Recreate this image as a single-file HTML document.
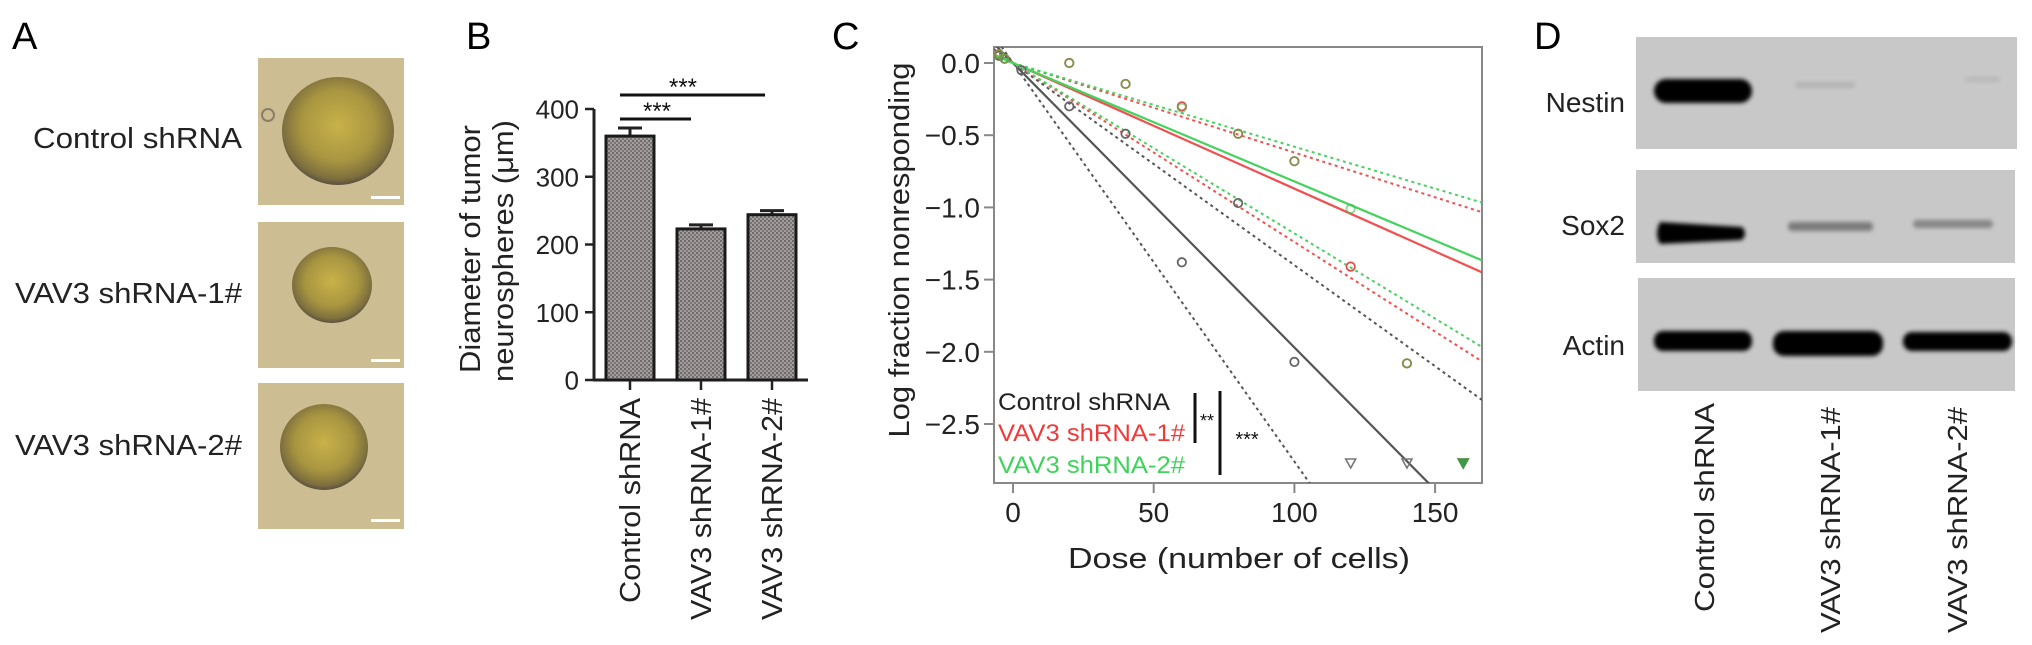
<!DOCTYPE html>
<html><head><meta charset="utf-8">
<style>
html,body{margin:0;padding:0;background:#fff;width:2032px;height:645px;overflow:hidden;}
svg{display:block;font-family:"Liberation Sans",Arial,sans-serif;}
</style></head>
<body>
<svg id="fig" width="2032" height="645" viewBox="0 0 2032 645" xmlns="http://www.w3.org/2000/svg">
<defs>
  <pattern id="hatch" width="4" height="4" patternUnits="userSpaceOnUse">
    <rect width="4" height="4" fill="#a39d9d"/>
    <rect width="2" height="2" fill="#6f6a6a"/>
    <rect x="2" y="2" width="2" height="2" fill="#7a7575"/>
  </pattern>
  <radialGradient id="cell" cx="50%" cy="45%" r="55%">
    <stop offset="0%" stop-color="#c9b24a"/>
    <stop offset="60%" stop-color="#a89540"/>
    <stop offset="90%" stop-color="#7d6f3e"/>
    <stop offset="100%" stop-color="#5b5040"/>
  </radialGradient>
  <filter id="blur" x="-20%" y="-50%" width="140%" height="200%"><feGaussianBlur stdDeviation="2"/></filter>
  <clipPath id="cbox"><rect x="994" y="47" width="488" height="436"/></clipPath>
</defs>

<!-- Panel A -->
<g>
  <text x="12" y="49" font-size="38">A</text>
  <text x="242" y="148" font-size="29" text-anchor="end" textLength="209" lengthAdjust="spacingAndGlyphs" fill="#222">Control shRNA</text>
  <text x="242" y="303" font-size="29" text-anchor="end" textLength="227" lengthAdjust="spacingAndGlyphs" fill="#222">VAV3 shRNA-1#</text>
  <text x="242" y="455" font-size="29" text-anchor="end" textLength="227" lengthAdjust="spacingAndGlyphs" fill="#222">VAV3 shRNA-2#</text>
  <g>
    <rect x="258" y="58" width="146" height="147" fill="#cdbd93"/>
    <ellipse cx="338" cy="131" rx="56" ry="54" fill="url(#cell)"/>
    <circle cx="268" cy="115" r="6" fill="none" stroke="#8a7e6a" stroke-width="2"/>
    <rect x="371" y="196" width="29" height="3" fill="#fff"/>
  </g>
  <g>
    <rect x="258" y="222" width="146" height="146" fill="#cdbd93"/>
    <ellipse cx="332" cy="285" rx="40" ry="38" fill="url(#cell)"/>
    <rect x="371" y="359" width="29" height="3" fill="#fff"/>
  </g>
  <g>
    <rect x="258" y="383" width="146" height="146" fill="#cdbd93"/>
    <ellipse cx="324" cy="447" rx="44" ry="43" fill="url(#cell)"/>
    <rect x="371" y="519" width="29" height="3" fill="#fff"/>
  </g>
</g>

<!-- Panel B -->
<g>
  <text x="466" y="49" font-size="38">B</text>
  <text transform="translate(480,249) rotate(-90)" font-size="29" text-anchor="middle" textLength="248" lengthAdjust="spacingAndGlyphs" fill="#222">Diameter of tumor</text>
  <text transform="translate(513,251) rotate(-90)" font-size="29" text-anchor="middle" textLength="262" lengthAdjust="spacingAndGlyphs" fill="#222">neurospheres (μm)</text>
  <g id="barChart"></g>
  <g>
    <line x1="620" y1="119" x2="691" y2="119" stroke="#111" stroke-width="3"/>
    <text x="657" y="119" font-size="24" text-anchor="middle" fill="#111">***</text>
  </g>
  <g>
    <line x1="620" y1="95" x2="765" y2="95" stroke="#111" stroke-width="3"/>
    <text x="683" y="95" font-size="24" text-anchor="middle" fill="#111">***</text>
  </g>
</g>

<!-- Panel C -->
<g>
  <text x="832" y="49" font-size="38">C</text>
  <text transform="translate(909,250) rotate(-90)" font-size="29" text-anchor="middle" textLength="375" lengthAdjust="spacingAndGlyphs" fill="#222">Log fraction nonresponding</text>
  <text x="1239" y="568" font-size="29" text-anchor="middle" textLength="342" lengthAdjust="spacingAndGlyphs" fill="#222">Dose (number of cells)</text>
  <rect x="994" y="47" width="488" height="436" fill="none" stroke="#888" stroke-width="2"/>
  <g id="ldaChart"></g>
  <g>
    <text x="998" y="410" font-size="24" fill="#222" textLength="172" lengthAdjust="spacingAndGlyphs">Control shRNA</text>
    <text x="998" y="441" font-size="24" fill="#f03a3a" textLength="187" lengthAdjust="spacingAndGlyphs">VAV3 shRNA-1#</text>
    <text x="998" y="473" font-size="24" fill="#3ed35a" textLength="187" lengthAdjust="spacingAndGlyphs">VAV3 shRNA-2#</text>
  </g>
  <g>
    <line x1="1195" y1="393" x2="1195" y2="443" stroke="#111" stroke-width="3"/>
    <text x="1207" y="427" font-size="18" text-anchor="middle" fill="#111">**</text>
    <line x1="1220" y1="391" x2="1220" y2="475" stroke="#111" stroke-width="3"/>
    <text x="1247" y="446" font-size="20" text-anchor="middle" fill="#111">***</text>
  </g>
</g>

<!-- Panel D -->
<g>
  <text x="1534" y="49" font-size="38">D</text>
  <text x="1625" y="112" font-size="28" text-anchor="end" fill="#222">Nestin</text>
  <text x="1625" y="235" font-size="28" text-anchor="end" fill="#222">Sox2</text>
  <text x="1625" y="355" font-size="28" text-anchor="end" fill="#222">Actin</text>
  <g>
    <rect x="1636" y="37" width="381" height="112" fill="#c8c8c8"/>
    <rect x="1654" y="79" width="98" height="24" rx="12" fill="#050505" filter="url(#blur)"/>
    <rect x="1795" y="82" width="60" height="6" rx="3" fill="#b4b4b4" filter="url(#blur)"/>
    <rect x="1965" y="77" width="35" height="5" rx="3" fill="#b8b8b8" filter="url(#blur)"/>
  </g>
  <g>
    <rect x="1636" y="170" width="379" height="93" fill="#c8c8c8"/>
    <path d="M1660 222 Q1654 234 1660 244 L1742 240 Q1748 233 1742 227 Z" fill="#050505" filter="url(#blur)"/>
    <rect x="1788" y="222" width="85" height="9" rx="4" fill="#7a7a7a" filter="url(#blur)"/>
    <rect x="1913" y="220" width="80" height="8" rx="4" fill="#858585" filter="url(#blur)"/>
  </g>
  <g>
    <rect x="1638" y="278" width="377" height="113" fill="#c8c8c8"/>
    <rect x="1654" y="331" width="98" height="20" rx="9" fill="#050505" filter="url(#blur)"/>
    <rect x="1773" y="331" width="110" height="25" rx="11" fill="#050505" filter="url(#blur)"/>
    <rect x="1903" y="332" width="109" height="19" rx="9" fill="#050505" filter="url(#blur)"/>
  </g>
  <text transform="translate(1714,403) rotate(-90)" font-size="28" text-anchor="end" textLength="209" lengthAdjust="spacingAndGlyphs" fill="#222">Control shRNA</text>
  <text transform="translate(1840,407) rotate(-90)" font-size="28" text-anchor="end" textLength="226" lengthAdjust="spacingAndGlyphs" fill="#222">VAV3 shRNA-1#</text>
  <text transform="translate(1967,407) rotate(-90)" font-size="28" text-anchor="end" textLength="226" lengthAdjust="spacingAndGlyphs" fill="#222">VAV3 shRNA-2#</text>
</g>

<script>
// ---- Panel B data ----
const barCategories = ["Control shRNA", "VAV3 shRNA-1#", "VAV3 shRNA-2#"];
const barValues = [360, 223, 244];
const barErrors = [12, 6, 6];
const barTicks = [0, 100, 200, 300, 400];

// ---- Panel C data ----
const ctrlDose = [-5, -3, 3, 20, 40, 60, 80, 100];
const ctrlVal = [0.05, 0.03, -0.05, -0.30, -0.49, -1.38, -0.97, -2.07];
const ctrlInfDose = [120, 140];
const sh1Dose = [-5, -3, 20, 40, 60, 80, 100, 120, 140];
const sh1Val = [0.06, 0.03, 0.0, -0.145, -0.30, -0.49, -0.68, -1.41, -2.08];
const sh2Dose = [-5, -3, 20, 40, 60, 80, 100, 120, 140];
const sh2Val = [0.06, 0.03, 0.0, -0.145, -0.31, -0.49, -0.68, -1.01, -2.08];
const shInfDose = [160];
const ctrlFit = [-0.0197, -0.0140, -0.0276];
const sh1Fit = [-0.0087, -0.0062, -0.0124];
const sh2Fit = [-0.0082, -0.0058, -0.0118];
const cYTicks = [0.0, -0.5, -1.0, -1.5, -2.0, -2.5];
const cXTicks = [0, 50, 100, 150];

const NS = "http://www.w3.org/2000/svg";
function mk(tag, attrs, parent) {
  const el = document.createElementNS(NS, tag);
  for (const k in attrs) el.setAttribute(k, attrs[k]);
  parent.appendChild(el);
  return el;
}

// ---- Panel B drawing ----
const bg = document.getElementById("barChart");
const bY = v => 380 - v * 0.6775;
const bX = i => 630 + 71 * i;
const barW = 48;
const yAxisB = mk("line", {x1: 594, y1: bY(400), x2: 594, y2: 381, stroke: "#222", "stroke-width": 3}, bg);


const xAxisB = mk("line", {x1: 593, y1: 380, x2: 808, y2: 380, stroke: "#222", "stroke-width": 3}, bg);


barTicks.forEach(t => {
  const tk = mk("line", {x1: 585, y1: bY(t), x2: 594, y2: bY(t), stroke: "#222", "stroke-width": 2.5}, bg);
  
  
  const lb = mk("text", {x: 579, y: bY(t) + 9.5, "font-size": 26, "text-anchor": "end", fill: "#222"}, bg);
  lb.textContent = String(t);
  
  
});
barCategories.forEach((c, i) => {
  const cx = bX(i);
  const e = mk("path", {d: `M${cx} ${bY(barValues[i])} V${bY(barValues[i] + barErrors[i])} M${cx - 12} ${bY(barValues[i] + barErrors[i])} H${cx + 12}`, stroke: "#222", "stroke-width": 3, fill: "none"}, bg);
  
  
  const r = mk("rect", {x: cx - barW / 2, y: bY(barValues[i]), width: barW, height: 380 - bY(barValues[i]), fill: "url(#hatch)", stroke: "#1a1a1a", "stroke-width": 3}, bg);
  
  
  const tk = mk("line", {x1: cx, y1: 380, x2: cx, y2: 390, stroke: "#222", "stroke-width": 2.5}, bg);
  
  
  const lb = mk("text", {transform: `translate(${cx + 10},398) rotate(-90)`, "font-size": 29, "text-anchor": "end", fill: "#222", textLength: i === 0 ? 205 : 222, lengthAdjust: "spacingAndGlyphs"}, bg);
  lb.textContent = c;
  
  
});

// ---- Panel C drawing ----
const cg = document.getElementById("ldaChart");
const cX = d => 1013 + d * 2.814;
const cY = v => 63 - v * 144.4;
const dMin = (994 - 1013) / 2.814, dMax = (1482 - 1013) / 2.814;
cYTicks.forEach(t => {
  const tk = mk("line", {x1: 984, y1: cY(t), x2: 994, y2: cY(t), stroke: "#888", "stroke-width": 2}, cg);
  
  
  const lb = mk("text", {x: 980, y: cY(t) + 10, "font-size": 28, "text-anchor": "end", fill: "#222"}, cg);
  lb.textContent = (t === 0 ? "0.0" : "\u2212" + Math.abs(t).toFixed(1));
  
  
});
cXTicks.forEach(t => {
  const tk = mk("line", {x1: cX(t), y1: 483, x2: cX(t), y2: 493, stroke: "#888", "stroke-width": 2}, cg);
  
  
  const lb = mk("text", {x: cX(t), y: 522, "font-size": 28, "text-anchor": "middle", fill: "#222"}, cg);
  lb.textContent = String(t);
  
  
});
const lines = mk("g", {"clip-path": "url(#cbox)"}, cg);
function fitLines(fit, color, name) {
  fit.forEach((s, k) => {
    const l = mk("line", {x1: cX(dMin), y1: cY(s * dMin), x2: cX(dMax), y2: cY(s * dMax), stroke: color, "stroke-width": k === 0 ? 2.2 : 2, "stroke-dasharray": k === 0 ? "none" : "3,3.5"}, lines);
    
    
  });
}
fitLines(ctrlFit, "#555", "control");
fitLines(sh1Fit, "#f25050", "vav3-1");
fitLines(sh2Fit, "#45d25f", "vav3-2");
function points(ds, vs, color, name, op) {
  ds.forEach((d, i) => {
    const p = mk("circle", {cx: cX(d), cy: cY(vs[i]), r: 4.2, fill: "none", stroke: color, "stroke-width": 1.8, "stroke-opacity": op}, cg);
    
    
  });
}
function tris(ds, color, name, filled) {
  ds.forEach(d => {
    const x = cX(d), y = 463;
    const t = mk("path", {d: `M${x - 5} ${y - 4} L${x + 5} ${y - 4} L${x} ${y + 5} Z`, fill: filled ? color : "none", stroke: color, "stroke-width": 1.6}, cg);
    
    
  });
}
points(ctrlDose, ctrlVal, "#666", "control", 1);
points(sh1Dose, sh1Val, "#e84a4a", "vav3-1", 1);
points(sh2Dose, sh2Val, "#3fbf4f", "vav3-2", 0.6);
tris(ctrlInfDose, "#777", "control", false);
tris(shInfDose, "#e84a4a", "vav3-1", true);
tris(shInfDose, "#3a9a45", "vav3-2", true);
</script>
</svg>
</body></html>
